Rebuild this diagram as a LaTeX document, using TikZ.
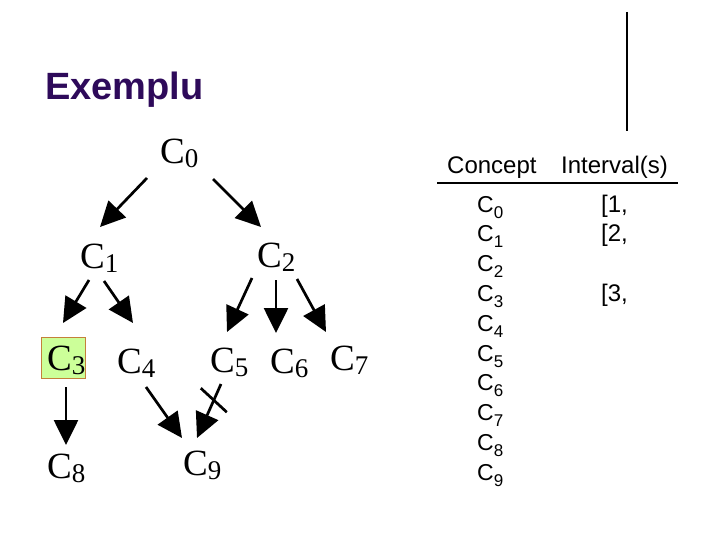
\documentclass[tikz,border=0pt]{standalone}
\usepackage{fontspec}
\setmainfont{Liberation Serif}
\newfontfamily\arial{Liberation Sans}
\usetikzlibrary{arrows.meta}
\definecolor{titlec}{RGB}{46,10,90}
\definecolor{boxfill}{RGB}{204,255,153}
\definecolor{boxdraw}{RGB}{196,128,58}
\newcommand{\Cn}[1]{\fontsize{37}{37}\selectfont C\raisebox{-4pt}{\fontsize{27}{27}\selectfont #1}}
\newcommand{\Tn}[1]{\arial\fontsize{23}{23}\selectfont C\raisebox{-6pt}{\fontsize{17}{17}\selectfont #1}}
\begin{document}
\begin{tikzpicture}[x=1pt,y=-1pt,
  tn/.style={inner sep=0pt, anchor=base west},
  arr/.style={line width=2.7pt, -{Triangle[length=25pt,width=24pt]}},
  tabtxt/.style={inner sep=0pt, anchor=base west, font=\arial\fontsize{24}{24}\selectfont}]
\useasboundingbox (0,0) rectangle (720,540);
\fill[white] (0,0) rectangle (720,540);
% title
\node[tn, font=\arial\bfseries\fontsize{38}{38}\selectfont, text=titlec] (title) at (45,100) {Exemplu};
\coordinate (vt) at (627,12);
\coordinate (vb) at (627,131);
\draw[line width=1.2pt] (vt) -- (vb);
% tree
\node[tn] (C0) at (160,164) {\Cn{0}};
\node[tn] (C1) at (80,268) {\Cn{1}};
\node[tn] (C2) at (257,267) {\Cn{2}};
\fill[boxfill, draw=boxdraw, line width=1pt] (41,337) rectangle (85,378);
\node[tn] (C3) at (47,370) {\Cn{3}};
\node[tn] (C4) at (117,373) {\Cn{4}};
\node[tn] (C5) at (210,372) {\Cn{5}};
\node[tn] (C6) at (270,373) {\Cn{6}};
\node[tn] (C7) at (330,370) {\Cn{7}};
\node[tn] (C8) at (47,478) {\Cn{8}};
\node[tn] (C9) at (183,475) {\Cn{9}};
\draw[arr] ([shift={(-13,14)}]C0.base west) -- ([shift={(20,-41)}]C1.base west);
\draw[arr] ([shift={(53,15)}]C0.base west) -- ([shift={(4,-40)}]C2.base west);
\draw[arr] ([shift={(9,12)}]C1.base west) -- ([shift={(16,-47)}]C3.base west);
\draw[arr] ([shift={(24,13)}]C1.base west) -- ([shift={(16,-50)}]C4.base west);
\draw[arr] ([shift={(-5,11)}]C2.base west) -- ([shift={(17,-40)}]C5.base west);
\draw[arr] ([shift={(19,13)}]C2.base west) -- ([shift={(6,-40)}]C6.base west);
\draw[arr] ([shift={(40,12)}]C2.base west) -- ([shift={(-4,-38)}]C7.base west);
\draw[arr] ([shift={(19,17)}]C3.base west) -- ([shift={(19,-33)}]C8.base west);
\draw[arr] ([shift={(29,14)}]C4.base west) -- ([shift={(-1,-37)}]C9.base west);
\draw[arr] ([shift={(11,12)}]C5.base west) -- coordinate[pos=0.3] (cut) ([shift={(14,-37)}]C9.base west);
\draw[line width=2.7pt] ([shift={(-13,-12)}]cut) -- ([shift={(13,12)}]cut);
% table
\node[tabtxt] (h1) at (447,174) {Concept};
\node[tabtxt] (h2) at (561,174) {Interval(s)};
\coordinate (rl) at (437,183);
\coordinate (rr) at (678,183);
\draw[line width=1.3pt] (rl) -- (rr);
\foreach \i in {0,...,9}{
  \node[tn] (r\i) at (477,{212+29.8*\i}) {\Tn{\i}};
}
\node[tabtxt] (i0) at (601,212) {[1,};
\node[tabtxt] (i1) at (601,241.8) {[2,};
\node[tabtxt] (i3) at (601,301.4) {[3,};
\end{tikzpicture}
\end{document}
